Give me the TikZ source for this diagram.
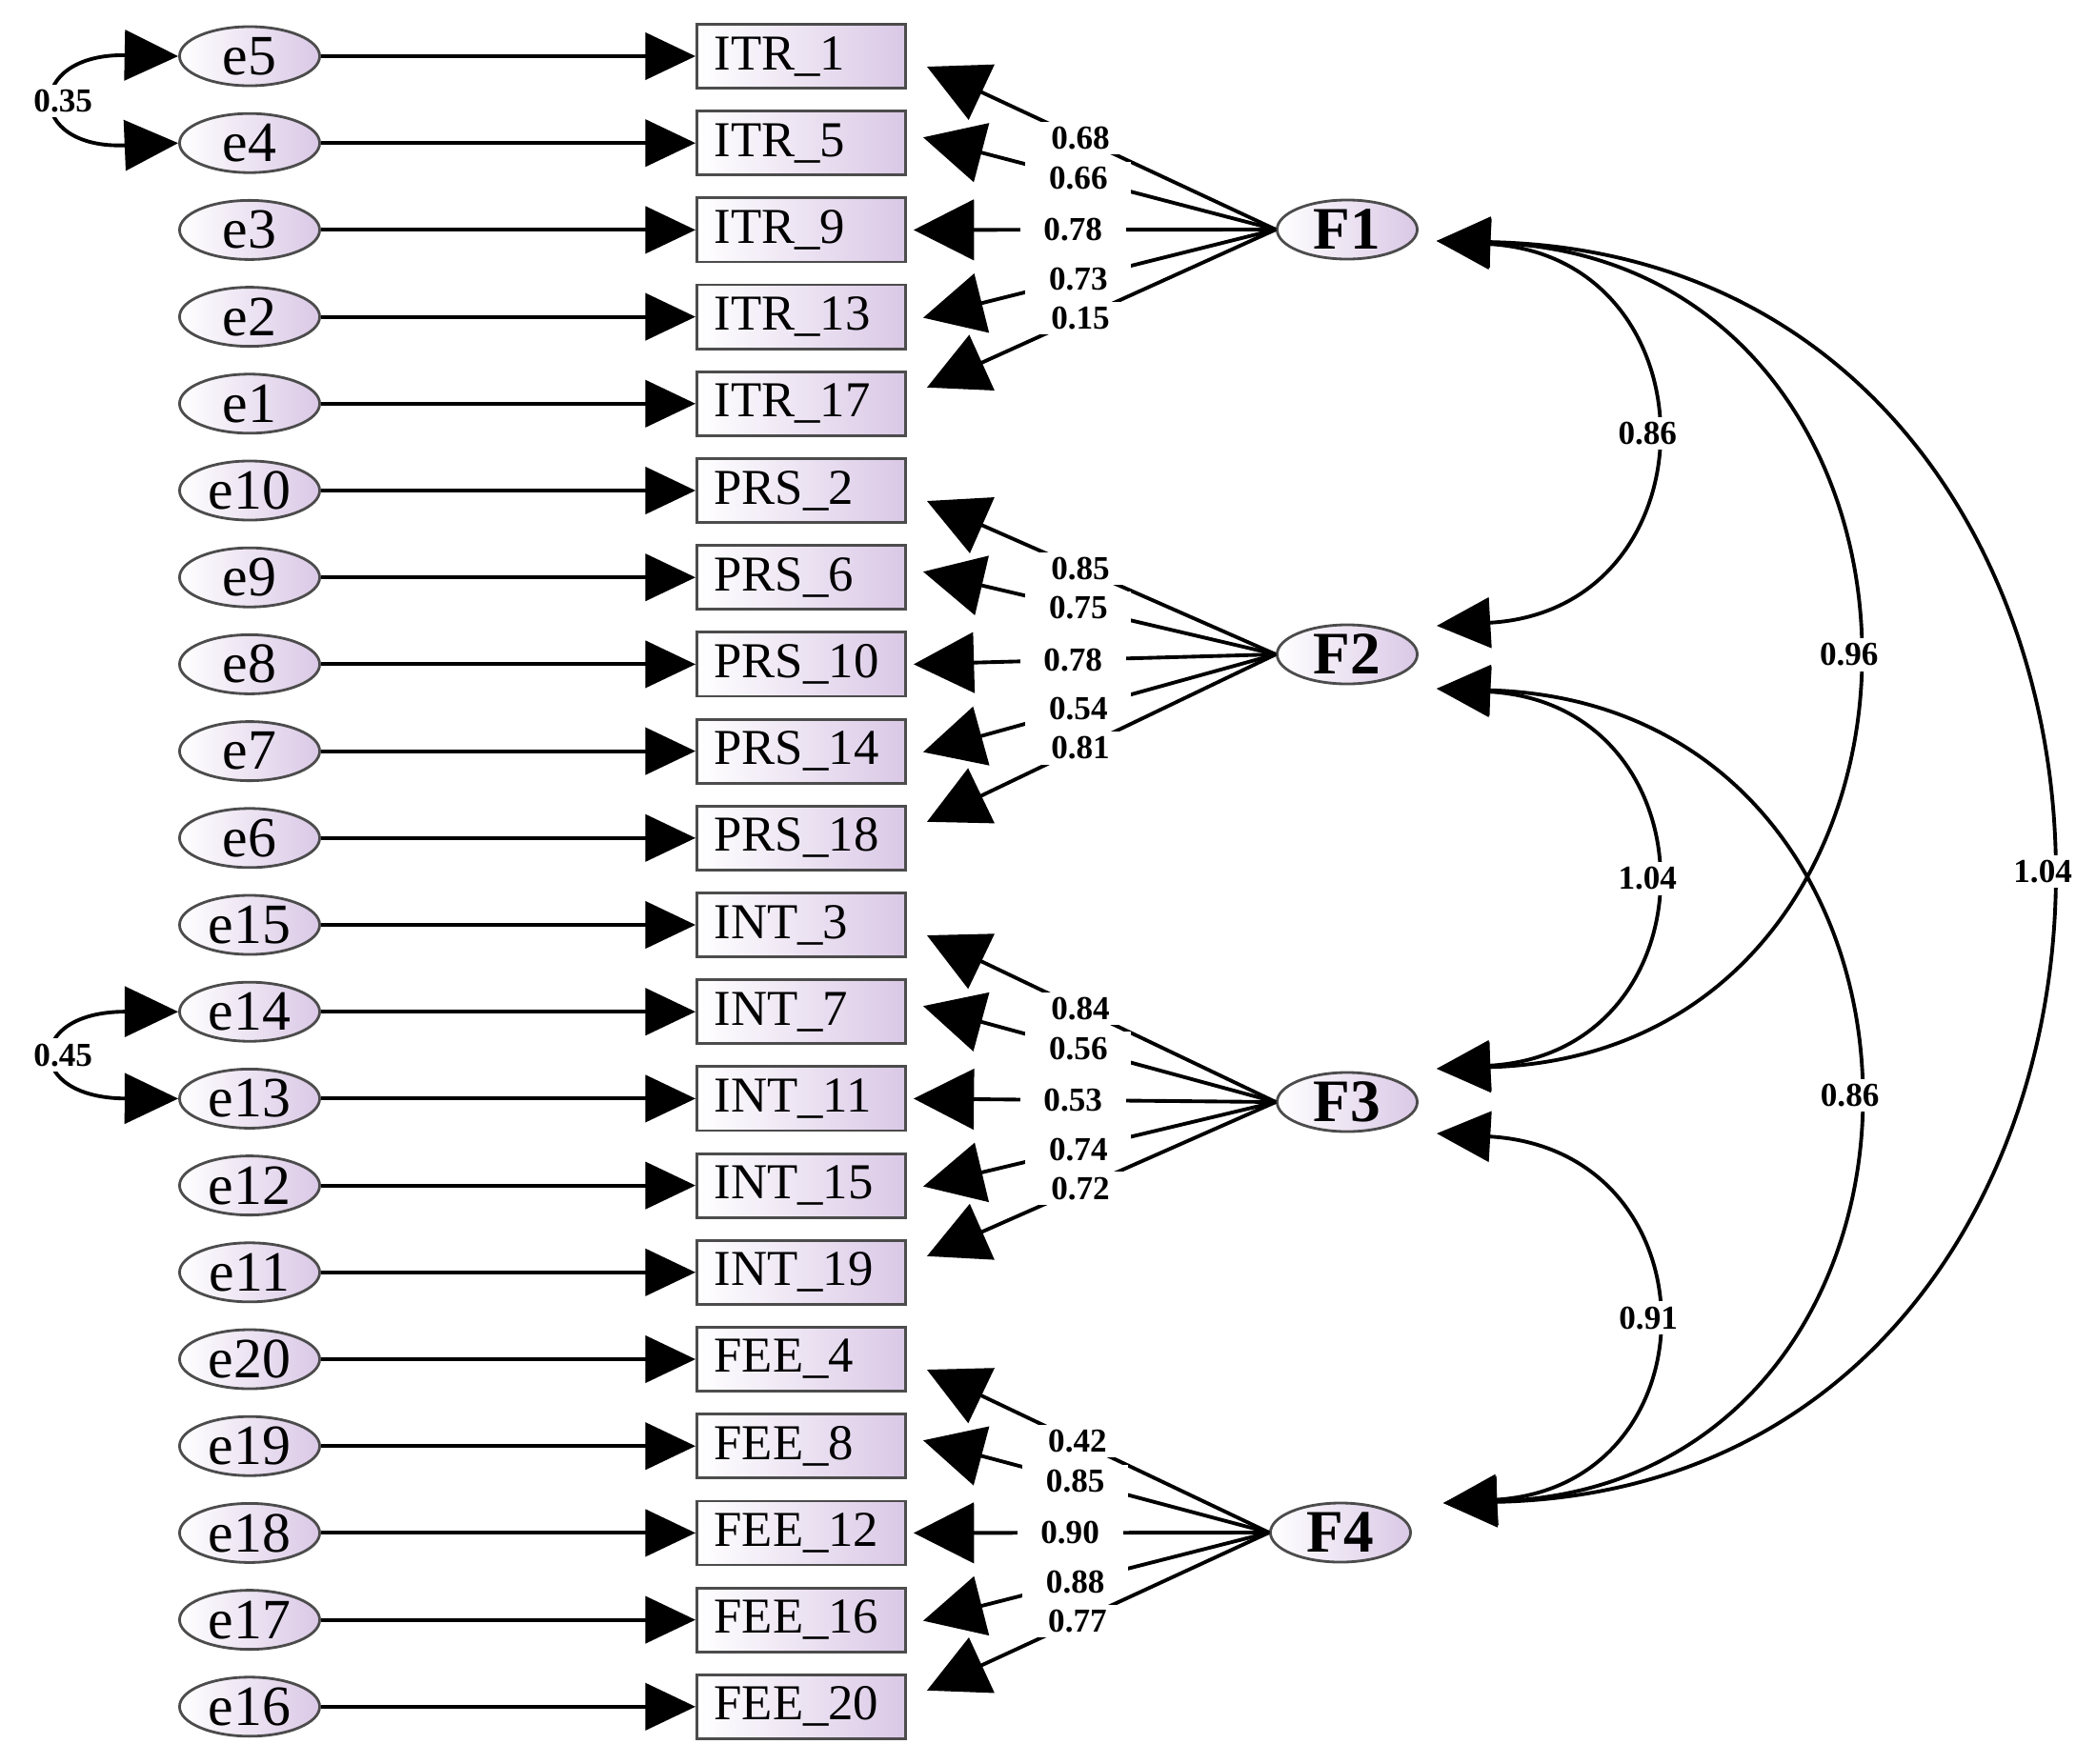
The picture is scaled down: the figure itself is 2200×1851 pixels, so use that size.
\documentclass[tikz,border=0pt]{standalone}
\usepackage{fontspec}
\setmainfont{Liberation Serif}
\usetikzlibrary{arrows.meta,calc,shapes.geometric}
\definecolor{lav}{RGB}{218,200,230}
\begin{document}
\begin{tikzpicture}[x=0.01cm,y=-0.01cm,line width=1.1pt,
 err/.style={ellipse,draw=gray!60!black,line width=0.8pt,left color=white,right color=lav,minimum width=1.47cm,minimum height=0.62cm,inner sep=0pt,font=\fontsize{17}{17}\selectfont},
 lat/.style={err,font=\bfseries\fontsize{18}{18}\selectfont},
 obs/.style={rectangle,draw=gray!60!black,line width=0.8pt,left color=white,right color=lav,text width=1.83cm,inner sep=0pt,inner xsep=0.18cm,minimum height=0.67cm,align=left,font=\fontsize{15}{15}\selectfont},
 lbl/.style={fill=white,inner sep=1.5pt,font=\bfseries\fontsize{10}{10}\selectfont},
 llbl/.style={lbl,inner xsep=7pt},
 arr/.style={-{Triangle[length=15pt,width=14pt]}},
 load/.style={-{Triangle[length=18pt,width=18pt]}},
 cov/.style={{Triangle[length=16pt,width=15pt]}-{Triangle[length=16pt,width=15pt]}}]
\useasboundingbox (0,0) rectangle (2200,1851);
\foreach \n [count=\i from 0] in {5,4,3,2,1,10,9,8,7,6,15,14,13,12,11,20,19,18,17,16}
  \node[err] (e\n) at (262,{59+91.2*\i}) {e\n};
\foreach \t [count=\i from 0] in {ITR\_1,ITR\_5,ITR\_9,ITR\_13,ITR\_17,PRS\_2,PRS\_6,PRS\_10,PRS\_14,PRS\_18,INT\_3,INT\_7,INT\_11,INT\_15,INT\_19,FEE\_4,FEE\_8,FEE\_12,FEE\_16,FEE\_20}
  \node[obs] (b\i) at (841,{59+91.2*\i}) {\t};
\foreach \n [count=\i from 0] in {5,4,3,2,1,10,9,8,7,6,15,14,13,12,11,20,19,18,17,16}
  \draw[arr] (e\n) -- (b\i);
\node[lat] (F1) at (1414,241) {F1};
\node[lat] (F2) at (1414,687) {F2};
\node[lat] (F3) at (1414,1157) {F3};
\node[lat] (F4) at (1407,1609) {F4};
\foreach \k/\la/\lb/\lc/\ld/\le in {1/0.68/0.66/0.78/0.73/0.15,2/0.85/0.75/0.78/0.54/0.81,3/0.84/0.56/0.53/0.74/0.72,4/0.42/0.85/0.90/0.88/0.77}{
  \foreach \j/\dx/\dy/\v in {0/21/11/\la,1/17/-6/\lb,2/7/0/\lc,3/17/1/\ld,4/21/-17/\le}{
    \pgfmathtruncatemacro\r{5*(\k-1)+\j}
    \coordinate (t\k\j) at ($(b\r.east)+(\dx,\dy)$);
    \draw[load] (F\k.west) -- node[pos=0.56,llbl]{\v} (t\k\j);
  }
}
\coordinate (F1r) at ($(F1)+(94,12)$);
\coordinate (F2a) at ($(F2)+(94,-30)$);
\coordinate (F2b) at ($(F2)+(94,36)$);
\coordinate (F3a) at ($(F3)+(94,-35)$);
\coordinate (F3b) at ($(F3)+(94,33)$);
\coordinate (F4a) at ($(F4)+(108,-31)$);
\draw[cov] (F1r) .. controls (1803,270) and (1803,640) .. node[lbl]{0.86} (F2a);
\draw[cov] (F1r) .. controls (2085,270) and (2085,1105) .. node[lbl]{0.96} (F3a);
\draw[cov] (F1r) .. controls (2355,270) and (2355,1560) .. node[lbl]{1.04} (F4a);
\draw[cov] (F2b) .. controls (1803,740) and (1803,1105) .. node[lbl]{1.04} (F3a);
\draw[cov] (F2b) .. controls (2085,740) and (2085,1560) .. node[lbl]{0.86} (F4a);
\draw[cov] (F3b) .. controls (1803,1207) and (1803,1560) .. node[lbl]{0.91} (F4a);
\draw[cov] (e5.west) .. controls (26,56) and (26,157) .. node[lbl]{0.35} (e4.west);
\draw[cov] (e14.west) .. controls (26,1062) and (26,1153) .. node[lbl]{0.45} (e13.west);
\end{tikzpicture}
\end{document}
